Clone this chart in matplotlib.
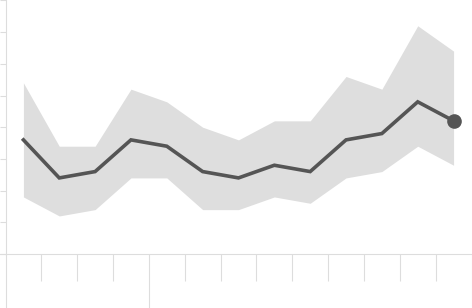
import numpy as np
import matplotlib
matplotlib.use('Agg')
import matplotlib.pyplot as plt

months = ['Sep', 'Oct', 'Nov', 'Dec', 'Jan', 'Feb', 'Mar', 'Apr', 'May', 'Jun', 'Jul', 'Aug', 'Sep']
mid = [36, 24, 26, 36, 34, 26, 24, 28, 26, 36, 38, 48, 42]
upper = [54, 34, 34, 52, 48, 40, 36, 42, 42, 56, 52, 72, 64]
lower = [18, 12, 14, 24, 24, 14, 14, 18, 16, 24, 26, 34, 28]
year_breaks = [0, 4, 13]  # boundaries between years, in month slots

x = np.arange(len(months))
grid_col = '#dddddd'

fig = plt.figure(figsize=(4.72, 3.08), dpi=100)
ax = fig.add_axes([5.5 / 472, 54 / 308, 466 / 472, 253.6 / 308])

ax.fill_between(x, lower, upper, color='#dedede', lw=0)
ax.plot(x, mid, color='#555555', lw=2.6, solid_joinstyle='miter')
ax.plot(x[-1], mid[-1], 'o', color='#555555', ms=9.5)

ax.set_xlim(-0.5, len(months) - 0.5)
ax.set_ylim(0, 80)

edges = np.arange(len(months) + 1) - 0.5
ax.set_xticks(edges, minor=True)
ax.set_xticks([edges[i] for i in year_breaks])
ax.set_xticklabels([])
ax.set_yticks(range(0, 81, 10))
ax.set_yticklabels([])

ax.tick_params(axis='x', which='major', length=39, width=0.8, color=grid_col)
ax.tick_params(axis='x', which='minor', length=19.5, width=0.8, color=grid_col)
ax.tick_params(axis='y', length=4, width=0.8, color=grid_col)

for side in ['top', 'right']:
    ax.spines[side].set_visible(False)
for side in ['left', 'bottom']:
    ax.spines[side].set_color(grid_col)
    ax.spines[side].set_linewidth(0.8)
ax.spines['bottom'].set_bounds(-0.5 - 5.5 / 466 * 13, len(months) - 0.5)
ax.spines['bottom'].set_clip_on(False)

plt.savefig('out.png', dpi=100)
